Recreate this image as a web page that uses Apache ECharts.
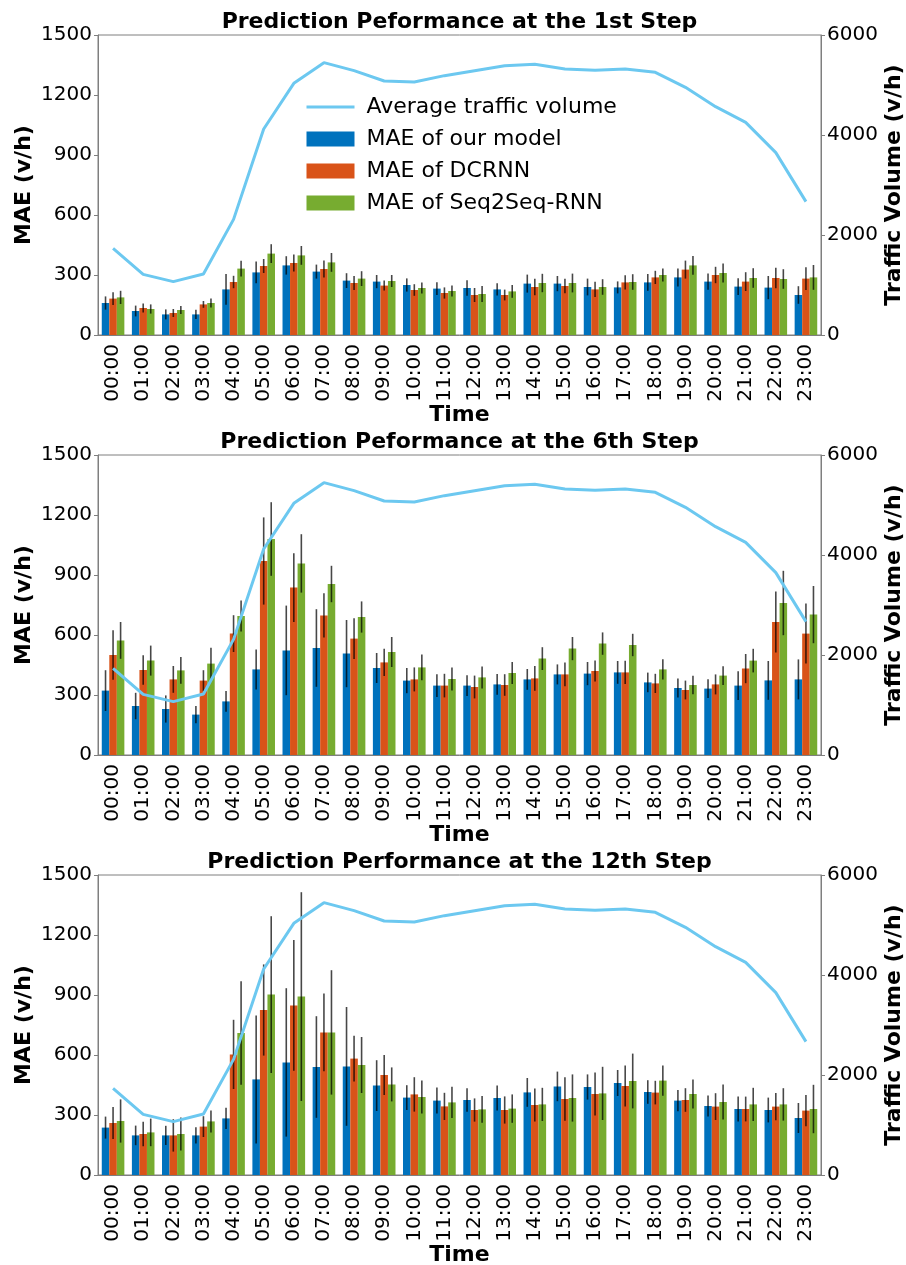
<!DOCTYPE html>
<html>
<head>
<meta charset="utf-8">
<script src="https://cdn.jsdelivr.net/npm/echarts@6/dist/echarts.min.js"></script>
<style>html,body{margin:0;padding:0;background:#fff;}#c{width:906px;height:1265px;}</style>
</head>
<body>
<div id="c"></div>
<script>
const hours = ['00:00','01:00','02:00','03:00','04:00','05:00','06:00','07:00','08:00','09:00','10:00','11:00',
  '12:00','13:00','14:00','15:00','16:00','17:00','18:00','19:00','20:00','21:00','22:00','23:00'];
const maeTicks = {min: 0, max: 1500, interval: 300};
const volTicks = {min: 0, max: 6000, interval: 2000};
const traffic = [1733,1213,1067,1220,2313,4120,5033,5447,5287,5080,5060,5187,5287,5387,5413,5320,5293,5320,5253,4953,4567,4253,3647,2667];

const titles = ['Prediction Peformance at the 1st Step','Prediction Peformance at the 6th Step','Prediction Performance at the 12th Step'];
const seriesNames = ['MAE of our model','MAE of DCRNN','MAE of Seq2Seq-RNN'];
const lineName = 'Average traffic volume';

// Step 1
const s1Ours  = [160,120,103,103,228,313,348,317,272,267,250,232,235,228,257,257,240,238,263,288,267,242,237,200];
const s1Dcrnn = [182,135,110,153,265,345,360,330,260,247,225,210,200,200,240,245,228,263,288,327,300,267,285,282];
const s1Seq   = [188,130,125,160,332,407,398,363,282,270,235,220,205,218,260,260,240,265,300,348,310,285,280,288];
const s1OursErr  = [33,27,25,23,77,54,46,35,37,33,33,32,39,31,45,38,42,30,42,45,41,42,58,44];
const s1DcrnnErr = [32,22,20,17,31,35,43,42,35,25,29,28,35,27,41,36,38,36,33,45,41,47,51,57];
const s1SeqErr   = [33,23,20,22,39,47,47,47,37,30,27,27,40,32,46,47,39,39,33,47,47,49,49,62];
// Step 6
const s6Ours  = [322,245,230,202,268,428,523,535,507,435,372,347,347,353,378,403,407,413,363,335,332,347,373,378];
const s6Dcrnn = [500,425,378,372,607,970,837,698,582,463,378,347,340,350,383,403,420,413,358,325,353,432,665,607];
const s6Seq   = [573,472,423,457,695,1080,958,855,690,515,438,380,388,410,482,532,557,550,428,350,397,472,760,702];
const s6OursErr  = [102,66,68,43,52,100,224,194,168,75,63,57,52,52,52,50,58,57,49,48,47,72,97,100];
const s6DcrnnErr = [124,74,67,52,92,218,172,111,102,68,60,59,57,54,62,59,53,58,48,47,50,73,152,150];
const s6SeqErr   = [92,75,67,79,77,184,146,91,78,75,64,57,55,55,57,58,56,56,51,46,47,59,161,143];
// Step 12
const s12Ours  = [237,198,198,198,283,478,563,540,543,447,387,372,375,385,413,443,440,460,415,372,345,330,325,285];
const s12Dcrnn = [260,205,198,242,603,825,848,713,582,500,403,343,325,325,350,380,405,445,412,375,342,330,342,322];
const s12Seq   = [270,213,205,268,710,902,892,713,550,453,390,363,328,332,353,385,408,470,472,405,365,353,353,330];
const s12OursErr  = [55,49,48,41,53,320,371,254,297,127,62,65,59,63,72,74,63,65,59,53,52,62,62,75];
const s12DcrnnErr = [80,61,81,52,173,228,327,194,114,100,86,68,58,68,82,109,108,102,59,59,67,62,68,78];
const s12SeqErr   = [108,69,83,55,259,392,522,311,140,85,82,78,67,71,83,118,133,137,76,72,87,83,81,121];

const panels = [
  {vals: [s1Ours, s1Dcrnn, s1Seq], errs: [s1OursErr, s1DcrnnErr, s1SeqErr]},
  {vals: [s6Ours, s6Dcrnn, s6Seq], errs: [s6OursErr, s6DcrnnErr, s6SeqErr]},
  {vals: [s12Ours, s12Dcrnn, s12Seq], errs: [s12OursErr, s12DcrnnErr, s12SeqErr]}
];

const FONT = 'DejaVu Sans';
const colors = ['#0072BD', '#D95319', '#77AC30'];
const lineColor = '#6CC8F0';
const axisGray = '#7f7f7f';
const gridTops = [35, 455, 875];
const titleTops = [11, 431, 851];

function errRender(frac) {
  return function (params, api) {
    const x = api.value(0), y = api.value(1), e = api.value(2);
    const lo = api.coord([x, y - e]);
    const hi = api.coord([x, y + e]);
    const dx = frac * api.size([1, 0])[0];
    return {
      type: 'line',
      shape: {x1: lo[0] + dx, y1: lo[1], x2: hi[0] + dx, y2: hi[1]},
      style: {stroke: 'rgba(0,0,0,0.72)', lineWidth: 1.6}
    };
  };
}

const plain = v => String(v);

const option = {
  animation: false,
  backgroundColor: '#fff',
  textStyle: {fontFamily: FONT},
  title: [],
  grid: [],
  xAxis: [],
  yAxis: [],
  series: [],
  legend: {
    orient: 'vertical',
    left: 300,
    top: 91,
    itemWidth: 48,
    itemHeight: 15,
    itemGap: 10,
    textStyle: {fontFamily: FONT, fontSize: 22, color: '#000', padding: [0, 0, 0, 7]},
    data: [
      {name: lineName, itemStyle: {opacity: 0}, lineStyle: {width: 3, color: lineColor}},
      {name: seriesNames[0], icon: 'rect'},
      {name: seriesNames[1], icon: 'rect'},
      {name: seriesNames[2], icon: 'rect'}
    ]
  }
};

panels.forEach((p, k) => {
  option.title.push({
    text: titles[k], left: 459.5, textAlign: 'center', top: titleTops[k], padding: 0,
    textStyle: {fontFamily: FONT, fontSize: 22, fontWeight: 'bold', color: '#000'}
  });
  option.grid.push({
    left: 98, right: 85, top: gridTops[k], height: 300,
    outerBoundsMode: 'none', containLabel: false,
    show: true, borderColor: axisGray, borderWidth: 1, backgroundColor: 'transparent'
  });
  option.xAxis.push({
    type: 'category', gridIndex: k, data: hours,
    name: 'Time', nameLocation: 'middle', nameGap: 69, nameMoveOverlap: false,
    nameTextStyle: {fontFamily: FONT, fontSize: 22, fontWeight: 'bold', color: '#000'},
    axisLine: {lineStyle: {color: axisGray, width: 1}},
    axisTick: {alignWithLabel: true, length: 4, lineStyle: {color: axisGray}},
    axisLabel: {rotate: 90, fontFamily: FONT, fontSize: 20, color: '#000', margin: 9, interval: 0},
    splitLine: {show: false}
  });
  option.yAxis.push({
    type: 'value', gridIndex: k, position: 'left',
    min: maeTicks.min, max: maeTicks.max, interval: maeTicks.interval,
    name: 'MAE (v/h)', nameLocation: 'middle', nameGap: 63, nameRotate: 90, nameMoveOverlap: false,
    nameTextStyle: {fontFamily: FONT, fontSize: 22, fontWeight: 'bold', color: '#000'},
    axisLine: {show: true, lineStyle: {color: axisGray, width: 1}},
    axisTick: {show: true, length: 4, lineStyle: {color: axisGray}},
    axisLabel: {fontFamily: FONT, fontSize: 20, color: '#000', margin: 6, formatter: plain},
    splitLine: {show: false}
  });
  option.yAxis.push({
    type: 'value', gridIndex: k, position: 'right',
    min: volTicks.min, max: volTicks.max, interval: volTicks.interval,
    name: 'Traffic Volume (v/h)', nameLocation: 'middle', nameGap: 62, nameRotate: 90, nameMoveOverlap: false,
    nameTextStyle: {fontFamily: FONT, fontSize: 22, fontWeight: 'bold', color: '#000'},
    axisLine: {show: true, lineStyle: {color: axisGray, width: 1}},
    axisTick: {show: true, length: 4, lineStyle: {color: axisGray}},
    axisLabel: {fontFamily: FONT, fontSize: 20, color: '#000', margin: 6, formatter: plain},
    splitLine: {show: false}
  });
  const yl = 2 * k, yr = 2 * k + 1;
  seriesNames.forEach((nm, j) => {
    option.series.push({
      type: 'bar', name: nm, xAxisIndex: k, yAxisIndex: yl,
      data: p.vals[j], barWidth: '25%', barGap: '0%',
      itemStyle: {color: colors[j]}, z: 2
    });
  });
  const fracs = [-0.25, 0, 0.25];
  seriesNames.forEach((nm, j) => {
    option.series.push({
      type: 'custom', name: nm + ' err', xAxisIndex: k, yAxisIndex: yl,
      renderItem: errRender(fracs[j]),
      encode: {x: 0, y: 1},
      data: hours.map((h, i) => [i, p.vals[j][i], p.errs[j][i]]),
      z: 3, silent: true
    });
  });
  option.series.push({
    type: 'line', name: lineName, xAxisIndex: k, yAxisIndex: yr,
    data: traffic, symbol: 'none', showSymbol: false,
    lineStyle: {color: lineColor, width: 3}, itemStyle: {color: lineColor}, z: 4
  });
});

const chart = echarts.init(document.getElementById('c'), null, {renderer: 'canvas'});
chart.setOption(option);
</script>
</body>
</html>
